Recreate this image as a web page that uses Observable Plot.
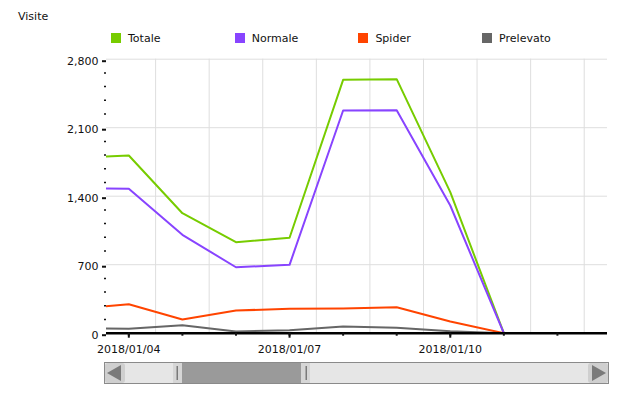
<!DOCTYPE html>
<html><head><meta charset="utf-8">
<script src="https://cdn.jsdelivr.net/npm/d3@7"></script>
<script src="https://cdn.jsdelivr.net/npm/@observablehq/plot@0.6"></script>
<style>
body{margin:0;background:#fff;font-family:"DejaVu Sans",Verdana,sans-serif;}
#wrap{position:relative;width:627px;height:399px;overflow:hidden;}
#wrap svg{position:absolute;left:0;top:0;}
.title{position:absolute;left:18px;top:10px;font-size:11px;color:#111;}
.leg{position:absolute;top:33px;font-size:11px;color:#111;line-height:12px;white-space:nowrap;}
.leg span.sw{display:inline-block;width:10px;height:10px;vertical-align:top;margin-right:7px;margin-top:0px;}
.sb{position:absolute;}
</style></head><body><div id="wrap"></div>
<script>
// ---- data ----
const dates = ["2018-01-03","2018-01-04","2018-01-05","2018-01-06","2018-01-07","2018-01-08","2018-01-09","2018-01-10","2018-01-11","2018-01-12"];
const totale    = [1790, 1816, 1226, 930, 975, 2589, 2596, 1441, 0, 0];
const normale   = [1480, 1476, 1005, 674, 699, 2276, 2279, 1305, 0, 0];
const spider    = [250, 296, 140, 232, 249, 252, 266, 120, 0, 0];
const prelevato = [50, 45, 82, 17, 31, 68, 55, 20, 0, 0];
const seriesNames = ["Totale","Normale","Spider","Prelevato"];
const seriesColors = ["#77cc00","#8844ff","#ff4400","#666666"];
const yTicks = [0, 700, 1400, 2100, 2800];
const xLabelDates = ["2018-01-04","2018-01-07","2018-01-10"];
const titleText = "Visite";

// ---- build ----
const parse = d3.utcParse("%Y-%m-%d");
const seriesValues = [totale, normale, spider, prelevato];
const rows = [];
seriesNames.forEach((s, i) => dates.forEach((d, j) => rows.push({date: parse(d), value: seriesValues[i][j], series: s})));
const x0 = new Date(Date.UTC(2018, 0, 3, 14, 0));
const x1 = new Date(Date.UTC(2018, 0, 12, 22, 26));
const dayTicks = d3.utcDay.range(parse("2018-01-04"), x1);
const noonGrid = dayTicks.map(d => d3.utcHour.offset(d, 12));
const minorY = d3.range(0, 2801, 140).filter(v => !yTicks.includes(v));

const chart = Plot.plot({
  width: 627, height: 360,
  marginLeft: 106, marginRight: 20, marginTop: 58.7, marginBottom: 27.3,
  x: {type: "utc", domain: [x0, x1], label: null},
  y: {domain: [0, 2800], label: null},
  color: {domain: seriesNames, range: seriesColors},
  style: {fontFamily: "DejaVu Sans, Verdana, sans-serif", fontSize: "11px", color: "#111", background: "transparent"},
  marks: [
    Plot.ruleY(yTicks.slice(1), {stroke: "#dedede"}),
    Plot.ruleX(noonGrid, {stroke: "#dedede"}),
    Plot.line(rows, {x: "date", y: "value", z: "series", stroke: "series", strokeWidth: 2, clip: true}),
    Plot.ruleY([0], {stroke: "#000", strokeWidth: 2.5}),
    Plot.axisY(minorY, {tickSize: 2, strokeWidth: 1.5, tickFormat: () => "", label: null}),
    Plot.axisY(yTicks, {tickSize: 4, strokeWidth: 2, tickPadding: 4, dy: 2, tickFormat: d3.format(","), label: null}),
    Plot.axisX(dayTicks, {tickSize: 3, strokeWidth: 2, tickFormat: () => "", label: null}),
    Plot.axisX(xLabelDates.map(parse), {tickSize: 5, strokeWidth: 2, tickPadding: 7, tickFormat: d3.utcFormat("%Y/%m/%d"), label: null})
  ]
});
const wrap = document.getElementById("wrap");
wrap.appendChild(chart);

// title
const t = document.createElement("div");
t.className = "title"; t.textContent = titleText; wrap.appendChild(t);

// legend
seriesNames.forEach((s, i) => {
  const el = document.createElement("div");
  el.className = "leg";
  el.style.left = (111 + i * 123.7) + "px";
  el.innerHTML = `<span class="sw" style="background:${seriesColors[i]}"></span>${s}`;
  wrap.appendChild(el);
});

// scrollbar (decorative)
const sb = document.createElementNS("http://www.w3.org/2000/svg", "svg");
sb.setAttribute("width", 627); sb.setAttribute("height", 399);
sb.style.position = "absolute"; sb.style.left = "0"; sb.style.top = "0";
sb.innerHTML = `
<rect x="104.5" y="362.5" width="504" height="21" fill="#e6e6e6" stroke="#8a8a8a"/>
<rect x="105" y="363" width="20" height="20" rx="3" fill="#cfcfcf"/>
<path d="M107 373 L121 365 L121 381 Z" fill="#7a7a7a"/>
<rect x="588" y="363" width="20" height="20" rx="3" fill="#cfcfcf"/>
<path d="M606 373 L592 365 L592 381 Z" fill="#7a7a7a"/>
<rect x="173" y="363" width="137" height="20" fill="#d6d6d6"/>
<rect x="182" y="363" width="119" height="20" fill="#9a9a9a"/>
<rect x="176.5" y="366" width="1.5" height="14" fill="#7a7a7a"/>
<rect x="305.5" y="366" width="1.5" height="14" fill="#7a7a7a"/>`;
wrap.appendChild(sb);
</script></body></html>
